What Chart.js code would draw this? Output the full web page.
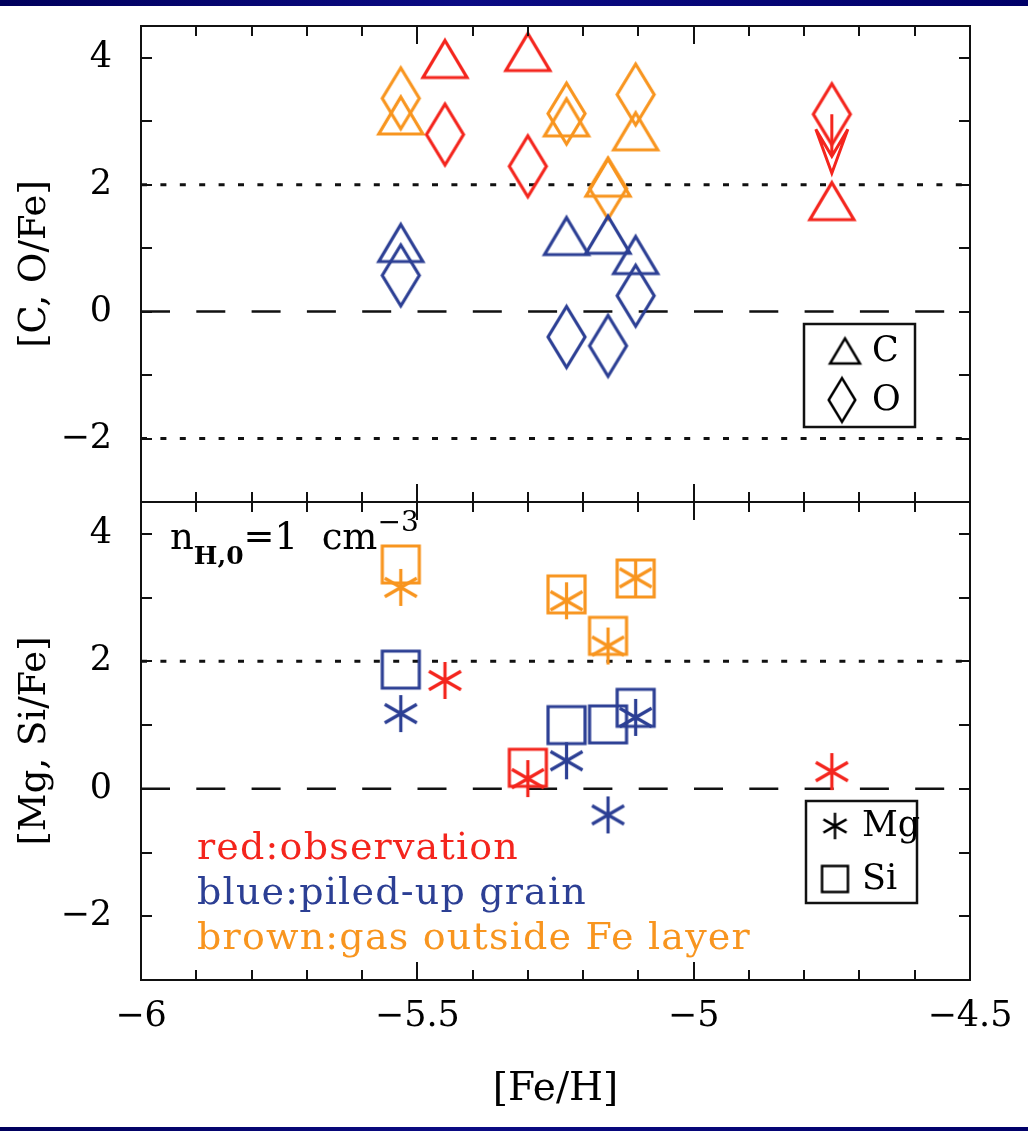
<!DOCTYPE html>
<html lang="en">
<head>
<meta charset="UTF-8">
<title>[C, O/Fe] and [Mg, Si/Fe] vs [Fe/H]</title>
<script src="https://cdn.jsdelivr.net/npm/chart.js"></script>
<style>
    body { margin: 0; background: #fff; }
    #page { position: relative; width: 1028px; height: 1131px; overflow: hidden; background: #fff; font-family: "DejaVu Serif", serif; }
    .bar { position: absolute; left: 0; width: 1028px; background: linear-gradient(90deg, #00005c, #0b0b84 45%, #000068); }
    canvas.panel { position: absolute; left: 0; }
    .note { position: absolute; white-space: pre; font-size: 38px; line-height: 45px; letter-spacing: 1.2px; }
    #dens { font-size: 37px; line-height: 44px; letter-spacing: 0; color: #000; }
    #dens .sub { font-size: 25px; font-weight: bold; position: relative; top: 15px; }
    #dens .sup { font-size: 28px; position: relative; top: -18px; }
</style>
</head>
<body>
<div id="page">
    <div class="bar" style="top:0;height:6px"></div>
    <canvas class="panel" id="cTop" width="1060" height="600" style="top:-40px"></canvas>
    <canvas class="panel" id="cBot" width="1060" height="691" style="top:440px"></canvas>
    <div class="note" id="dens" style="left:170px;top:515px">n<span class="sub">H,0</span>=1  cm<span class="sup">−3</span></div>
    <div class="note" style="left:197px;top:824px;color:#f4251d">red:observation</div>
    <div class="note" style="left:197px;top:869px;color:#2c3f94">blue:piled-up grain</div>
    <div class="note" style="left:197px;top:914px;color:#f8951f">brown:gas outside Fe layer</div>
    <div class="bar" style="top:1127px;height:4px"></div>
</div>
<script>
// [Fe/H] of the observed stars and of the model runs
const xObs = [-5.45, -5.30, -4.75];
const xModel = [-5.53, -5.23, -5.155, -5.105];

// upper panel: [C/Fe] (triangles) and [O/Fe] (diamonds)
const obsC = [3.98, 4.09, 1.74];
const obsO = [2.79, 2.29, 3.11];        // last one is an upper limit
const grainC = [1.08, 1.19, 1.21, 0.89];
const grainO = [0.57, -0.40, -0.54, 0.25];
const gasC = [3.09, 3.06, 2.11, 2.84];
const gasO = [3.36, 3.12, 1.94, 3.42];

// lower panel: [Mg/Fe] (asterisks) and [Si/Fe] (squares)
const xObsSi = [-5.30];
const obsMg = [1.70, 0.16, 0.27];
const obsSi = [0.33];
const grainMg = [1.18, 0.44, -0.41, 1.12];
const grainSi = [1.87, 1.00, 1.01, 1.27];
const gasMg = [3.16, 2.95, 2.24, 3.31];
const gasSi = [3.52, 3.05, 2.40, 3.30];

// reference levels
const dottedTop = [2, -2];
const dashedLevels = [0];
const dottedBot = [2];

const RED = '#f4251d', BLUE = '#2c3f94', ORANGE = '#f8951f';
const FONT = '"DejaVu Serif", serif';

function pts(xs, ys) { return xs.map((x, i) => ({ x: x, y: ys[i] })); }

// open markers drawn once into small canvases, used as pointStyle
function marker(kind, color, s, lw) {
    s = s || 1; lw = lw || 3.2;
    const size = { tri: [44, 37], dia: [37, 61], sq: [37, 37], ast: [33, 37] }[kind];
    const w = size[0] * s, h = size[1] * s, pad = 3 * lw;
    const c = document.createElement('canvas');
    c.width = Math.ceil(w + 2 * pad); c.height = Math.ceil(h + 2 * pad);
    const g = c.getContext('2d');
    g.strokeStyle = color; g.lineWidth = lw; g.lineJoin = 'miter';
    const cx = c.width / 2, cy = c.height / 2;
    g.beginPath();
    if (kind === 'tri') {
        g.moveTo(cx, cy - h / 2); g.lineTo(cx + w / 2, cy + h / 2); g.lineTo(cx - w / 2, cy + h / 2); g.closePath();
    } else if (kind === 'dia') {
        g.moveTo(cx, cy - h / 2); g.lineTo(cx + w / 2, cy); g.lineTo(cx, cy + h / 2); g.lineTo(cx - w / 2, cy); g.closePath();
    } else if (kind === 'sq') {
        g.rect(cx - w / 2, cy - h / 2, w, h);
    } else {
        const r = h / 2;
        g.moveTo(cx, cy - r); g.lineTo(cx, cy + r);
        [Math.PI / 6, -Math.PI / 6].forEach(a => {
            g.moveTo(cx - r * Math.cos(a), cy - r * Math.sin(a));
            g.lineTo(cx + r * Math.cos(a), cy + r * Math.sin(a));
        });
    }
    g.stroke();
    return c;
}

function markerSet(data, kind, color) {
    return { data: data, pointStyle: marker(kind, color), pointRadius: 5, showLine: false, order: 0 };
}

function level(y, dash, width, offset) {
    return {
        data: [{ x: -6, y: y }, { x: -4.5, y: y }], showLine: true, pointRadius: 0,
        borderColor: '#111', borderWidth: width, borderDash: dash, borderDashOffset: offset || 0,
        borderCapStyle: 'butt', order: 1
    };
}

const isHalf = v => Math.abs(v * 2 - Math.round(v * 2)) < 1e-6;
const minus = v => String(v).replace('-', '\u2212');

// box with inward ticks on all four sides
const framePlugin = {
    id: 'frame',
    afterDatasetsDraw(chart) {
        const { ctx, chartArea: a } = chart;
        const x = chart.scales.x, y = chart.scales.y;
        ctx.save();
        ctx.strokeStyle = '#111';
        ctx.lineWidth = 2;
        ctx.strokeRect(a.left, a.top, a.right - a.left, a.bottom - a.top);
        ctx.beginPath();
        x.ticks.forEach(t => {
            const px = Math.round(x.getPixelForValue(t.value));
            if (px <= a.left + 2 || px >= a.right - 2) return;
            const len = isHalf(t.value) ? 18 : 10;
            ctx.moveTo(px, a.top); ctx.lineTo(px, a.top + len);
            ctx.moveTo(px, a.bottom); ctx.lineTo(px, a.bottom - len);
        });
        y.ticks.forEach(t => {
            const py = Math.round(y.getPixelForValue(t.value));
            if (py <= a.top + 2 || py >= a.bottom - 2) return;
            ctx.moveTo(a.left, py); ctx.lineTo(a.left + 11, py);
            ctx.moveTo(a.right, py); ctx.lineTo(a.right - 11, py);
        });
        ctx.stroke();
        ctx.restore();
    }
};

// boxed symbol key, placed from the chart area's top-right corner
function keyPlugin(id, items, box) {
    return {
        id: id,
        afterDatasetsDraw(chart) {
            const { ctx, chartArea: a } = chart;
            const left = a.right - box.right - box.w, top = a.top + box.top;
            ctx.save();
            ctx.strokeStyle = '#111';
            ctx.lineWidth = 2.5;
            ctx.strokeRect(left, top, box.w, box.h);
            ctx.fillStyle = '#000';
            ctx.font = '35px ' + FONT;
            ctx.textBaseline = 'middle';
            items.forEach(it => {
                const m = it.img;
                ctx.drawImage(m, left + it.mx - m.width / 2, top + it.y - m.height / 2);
                ctx.fillText(it.label, left + it.tx, top + it.y + 1);
            });
            ctx.restore();
        }
    };
}

// upper-limit arrow on the observed O point at the right
const arrowPlugin = {
    id: 'limitArrow',
    afterDatasetsDraw(chart) {
        const { ctx } = chart;
        const x = chart.scales.x, y = chart.scales.y;
        const i = obsO.length - 1;
        const px = x.getPixelForValue(xObs[i]);
        const py = y.getPixelForValue(obsO[i]);
        const tip = py + 59;
        ctx.save();
        ctx.strokeStyle = RED;
        ctx.lineWidth = 3;
        ctx.lineJoin = 'miter';
        ctx.beginPath();
        ctx.moveTo(px, py); ctx.lineTo(px, tip - 17);
        ctx.moveTo(px - 16, tip - 44); ctx.lineTo(px, tip); ctx.lineTo(px + 16, tip - 44);
        ctx.lineTo(px, tip - 17); ctx.closePath();
        ctx.stroke();
        ctx.restore();
    }
};

function yScale(title) {
    return {
        min: -3, max: 4.5,
        ticks: {
            stepSize: 1, includeBounds: false, padding: 29, color: '#000',
            font: { family: FONT, size: 35 },
            callback: v => (v % 2 === 0 ? minus(v) : '')
        },
        grid: { display: false, drawTicks: false },
        border: { display: false },
        title: { display: true, text: title, color: '#000', font: { family: FONT, size: 37 }, padding: { top: 13, bottom: 0 } },
        afterFit: s => { s.width = 141; }
    };
}

const xBase = {
    type: 'linear', min: -6, max: -4.5,
    grid: { display: false, drawTicks: false },
    border: { display: false }
};

const common = {
    responsive: false,
    animation: false,
    events: [],
    plugins: { legend: { display: false }, tooltip: { enabled: false } }
};

const topSets = [
    ...dottedTop.map(v => level(v, [6, 13.4], 3, 0)),
    ...dashedLevels.map(v => level(v, [29, 26.3], 2.5, 0)),
    markerSet(pts(xObs, obsC), 'tri', RED),
    markerSet(pts(xObs, obsO), 'dia', RED),
    markerSet(pts(xModel, grainC), 'tri', BLUE),
    markerSet(pts(xModel, grainO), 'dia', BLUE),
    markerSet(pts(xModel, gasC), 'tri', ORANGE),
    markerSet(pts(xModel, gasO), 'dia', ORANGE)
];

const botSets = [
    ...dottedBot.map(v => level(v, [6, 13.4], 3, 0)),
    ...dashedLevels.map(v => level(v, [29, 26.3], 2.5, 0)),
    markerSet(pts(xObs, obsMg), 'ast', RED),
    markerSet(pts(xObsSi, obsSi), 'sq', RED),
    markerSet(pts(xModel, grainMg), 'ast', BLUE),
    markerSet(pts(xModel, grainSi), 'sq', BLUE),
    markerSet(pts(xModel, gasMg), 'ast', ORANGE),
    markerSet(pts(xModel, gasSi), 'sq', ORANGE)
];

new Chart(document.getElementById('cTop'), {
    type: 'scatter',
    data: { datasets: topSets },
    options: Object.assign({}, common, {
        layout: { padding: { left: 0, right: 90, top: 66, bottom: 58 } },
        scales: {
            x: Object.assign({}, xBase, {
                ticks: { stepSize: 0.1, display: false, autoSkip: false },
                afterFit: s => { s.height = 0; }
            }),
            y: yScale('[C, O/Fe]')
        }
    }),
    plugins: [framePlugin, arrowPlugin, keyPlugin('keyCO', [
        { img: marker('tri', '#000', 0.68, 2.5), mx: 41, tx: 68, y: 27, label: 'C' },
        { img: marker('dia', '#000', 0.72, 2.5), mx: 38, tx: 68, y: 76, label: 'O' }
    ], { right: 55, top: 298, w: 111, h: 103 })]
});

new Chart(document.getElementById('cBot'), {
    type: 'scatter',
    data: { datasets: botSets },
    options: Object.assign({}, common, {
        layout: { padding: { left: 0, right: 90, top: 62, bottom: 0 } },
        scales: {
            x: Object.assign({}, xBase, {
                ticks: {
                    stepSize: 0.1, autoSkip: false, maxRotation: 0, padding: 16, color: '#000',
                    font: { family: FONT, size: 35 },
                    callback: v => (isHalf(v) ? minus(+v.toFixed(1)) : '')
                },
                title: { display: true, text: '[Fe/H]', color: '#000', font: { family: FONT, size: 39 }, padding: { top: 0, bottom: 18 } },
                afterFit: s => { s.height = 151; }
            }),
            y: yScale('[Mg, Si/Fe]')
        }
    }),
    plugins: [framePlugin, keyPlugin('keyMgSi', [
        { img: marker('ast', '#000', 0.72, 2.5), mx: 29, tx: 56, y: 25, label: 'Mg' },
        { img: marker('sq', '#000', 0.7, 2.5), mx: 29, tx: 56, y: 78, label: 'Si' }
    ], { right: 53, top: 299, w: 111, h: 102 })]
});
</script>
</body>
</html>
